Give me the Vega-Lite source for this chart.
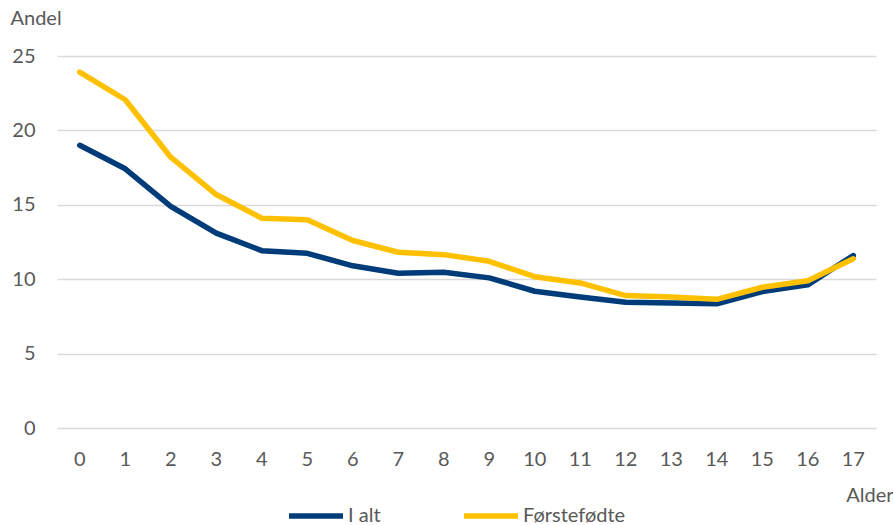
{
  "$schema": "https://vega.github.io/schema/vega-lite/v6.json",
  "autosize": "none",
  "width": 819,
  "height": 372,
  "padding": {"left": 57, "top": 56, "right": 17, "bottom": 97},
  "background": "white",
  "config": {"view": {"stroke": null}, "font": "Lato"},
  "data": {"values": [
    {"alder": "0", "serie": "I alt", "andel": 19.0},
    {"alder": "1", "serie": "I alt", "andel": 17.42},
    {"alder": "2", "serie": "I alt", "andel": 14.9},
    {"alder": "3", "serie": "I alt", "andel": 13.1},
    {"alder": "4", "serie": "I alt", "andel": 11.92},
    {"alder": "5", "serie": "I alt", "andel": 11.74},
    {"alder": "6", "serie": "I alt", "andel": 10.9},
    {"alder": "7", "serie": "I alt", "andel": 10.4},
    {"alder": "8", "serie": "I alt", "andel": 10.46},
    {"alder": "9", "serie": "I alt", "andel": 10.09},
    {"alder": "10", "serie": "I alt", "andel": 9.19},
    {"alder": "11", "serie": "I alt", "andel": 8.8},
    {"alder": "12", "serie": "I alt", "andel": 8.45},
    {"alder": "13", "serie": "I alt", "andel": 8.4},
    {"alder": "14", "serie": "I alt", "andel": 8.35},
    {"alder": "15", "serie": "I alt", "andel": 9.17},
    {"alder": "16", "serie": "I alt", "andel": 9.62},
    {"alder": "17", "serie": "I alt", "andel": 11.59},
    {"alder": "0", "serie": "Førstefødte", "andel": 23.92},
    {"alder": "1", "serie": "Førstefødte", "andel": 22.06},
    {"alder": "2", "serie": "Førstefødte", "andel": 18.2},
    {"alder": "3", "serie": "Førstefødte", "andel": 15.69},
    {"alder": "4", "serie": "Førstefødte", "andel": 14.1},
    {"alder": "5", "serie": "Førstefødte", "andel": 14.0},
    {"alder": "6", "serie": "Førstefødte", "andel": 12.6},
    {"alder": "7", "serie": "Førstefødte", "andel": 11.81},
    {"alder": "8", "serie": "Førstefødte", "andel": 11.65},
    {"alder": "9", "serie": "Førstefødte", "andel": 11.2},
    {"alder": "10", "serie": "Førstefødte", "andel": 10.17},
    {"alder": "11", "serie": "Førstefødte", "andel": 9.75},
    {"alder": "12", "serie": "Førstefødte", "andel": 8.9},
    {"alder": "13", "serie": "Førstefødte", "andel": 8.8},
    {"alder": "14", "serie": "Førstefødte", "andel": 8.65},
    {"alder": "15", "serie": "Førstefødte", "andel": 9.46},
    {"alder": "16", "serie": "Førstefødte", "andel": 9.9},
    {"alder": "17", "serie": "Førstefødte", "andel": 11.37}
  ]},
  "mark": {"type": "line", "strokeWidth": 5.5, "strokeCap": "round", "strokeJoin": "round"},
  "encoding": {
    "x": {
      "field": "alder", "type": "ordinal", "sort": null,
      "scale": {"type": "band", "paddingInner": 0, "paddingOuter": 0},
      "axis": {
        "title": "Alder", "titleFont": "Lato", "titleFontSize": 20, "titleFontWeight": "normal", "titleColor": "#595959",
        "titleAlign": "right", "titleX": 836, "titleY": 67, "titleBaseline": "middle",
        "labelAngle": 0, "labelFontSize": 20, "labelColor": "#595959", "labelPadding": 21,
        "domain": false, "ticks": false, "grid": false
      }
    },
    "y": {
      "field": "andel", "type": "quantitative",
      "scale": {"domain": [0, 25], "nice": false},
      "axis": {
        "values": [0, 5, 10, 15, 20, 25],
        "title": "Andel", "titleFont": "Lato", "titleFontSize": 20, "titleFontWeight": "normal", "titleColor": "#595959",
        "titleAngle": 0, "titleAlign": "left", "titleX": -47, "titleY": -38, "titleBaseline": "middle",
        "labelFontSize": 20, "labelColor": "#595959", "labelPadding": 22,
        "domain": false, "ticks": false,
        "grid": true, "gridColor": "#d9d9d9", "gridWidth": 1.5
      }
    },
    "color": {
      "field": "serie", "type": "nominal",
      "sort": ["I alt", "Førstefødte"],
      "scale": {"domain": ["I alt", "Førstefødte"], "range": ["#003b7a", "#ffc000"]},
      "legend": {
        "title": null, "orient": "none", "direction": "horizontal",
        "legendX": 229, "legendY": 430,
        "symbolType": "stroke", "symbolSize": 2916, "symbolStrokeWidth": 5.5,
        "labelFontSize": 20, "labelColor": "#595959", "labelOffset": 2, "labelFont": "Lato",
        "columnPadding": 72
      }
    }
  }
}
